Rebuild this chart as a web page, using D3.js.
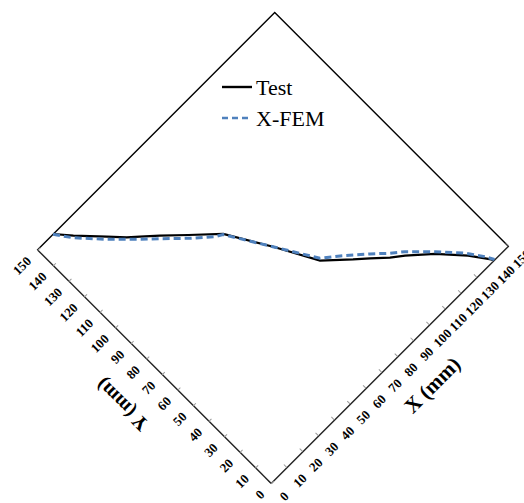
<!DOCTYPE html>
<html>
<head>
<meta charset="utf-8">
<script src="https://cdn.jsdelivr.net/npm/d3@7"></script>
<style>
  body { margin: 0; background: #fff; }
  svg { display: block; }
</style>
</head>
<body>
<div id="chart"></div>
<script>
// crack path (mm)
const testX = [10.2, 16, 26.2, 32.3, 36.7, 43.3, 52.5, 63.9, 76, 86, 96.8, 102.5, 109, 114.4, 124.4, 134.3, 138.8, 141.2]
const testY = [150, 143, 132, 125.3, 121.3, 115.2, 106.3, 95.4, 74.5, 55.7, 45.5, 40.4, 34.2, 30, 20.9, 9.7, 3.4, 0]

const xfemX = [10, 15.2, 25.5, 35.9, 42.4, 52, 60.4, 63.6, 76, 86.7, 93.8, 103.9, 110.4, 115.6, 125.1, 134.1, 139.3, 141.4]
const xfemY = [150, 142.5, 131, 120.4, 114.2, 104.7, 97.2, 95.3, 74.5, 56.5, 50.8, 41.8, 35.6, 31.3, 21.6, 11.5, 4, 0]

const axisTicks = d3.range(0, 151, 10)

const seriesNames = ["Test", "X-FEM"]

let svgW = 524, svgH = 503
// plot is a square turned 45 degrees round its origin corner
let origin = {x: 270.5, y: 483.5}
let plotW = 336, plotH = 330

const svg = d3.select("#chart")
    .append("svg")
    .attr("width", svgW)
    .attr("height", svgH)
    .style("background-color", "#fff")

const plot = svg.append("g")
    .attr("transform", "translate(" + origin.x + "," + origin.y + ") rotate(-45) translate(0," + (-plotH) + ")")

let x = d3.scaleLinear().domain([0, 150]).range([0, plotW])
let y = d3.scaleLinear().domain([0, 150]).range([plotH, 0])

// box (upper edges)
plot.append("path")
    .attr("d", "M0,0H" + x(150) + "V" + y(0))
    .attr("fill", "none")
    .attr("stroke", "#000")
    .attr("stroke-width", 1.4)

let xAxis = plot.append("g")
    .attr("transform", "translate(0," + plotH + ")")
    .call(d3.axisBottom(x).tickValues(axisTicks).tickSizeInner(-4).tickSizeOuter(0).tickPadding(14))

let yAxis = plot.append("g")
    .call(d3.axisLeft(y).tickValues(axisTicks).tickSizeInner(-4).tickSizeOuter(0).tickPadding(12))

plot.selectAll(".domain").attr("stroke", "#222").attr("stroke-width", 1.4)
plot.selectAll(".tick line").attr("stroke", "#999").attr("stroke-width", 1)
plot.selectAll(".tick text")
    .style("font-family", "'Liberation Serif', 'Times New Roman', serif")
    .style("font-weight", "bold")
    .style("font-size", "13px")
    .attr("fill", "#000")

// axis titles
plot.append("text")
    .attr("x", 184)
    .attr("y", plotH + 44.5)
    .attr("dy", "0.35em")
    .attr("text-anchor", "middle")
    .style("font-family", "'Liberation Serif', 'Times New Roman', serif")
    .style("font-weight", "bold")
    .style("font-size", "21px")
    .text("X (mm)")

plot.append("text")
    .attr("transform", "translate(-49.5," + (plotH - 160.5) + ") rotate(-90)")
    .attr("dy", "0.35em")
    .attr("text-anchor", "middle")
    .style("font-family", "'Liberation Serif', 'Times New Roman', serif")
    .style("font-weight", "bold")
    .style("font-size", "20px")
    .text("Y (mm)")

// curves
let line = d3.line().x(d => x(d[0])).y(d => y(d[1]))

plot.append("path")
    .datum(d3.zip(testX, testY))
    .attr("d", line)
    .attr("fill", "none")
    .attr("stroke", "#000")
    .attr("stroke-width", 2.2)

plot.append("path")
    .datum(d3.zip(xfemX, xfemY))
    .attr("d", line)
    .attr("fill", "none")
    .attr("stroke", "#4f81bd")
    .attr("stroke-width", 3)
    .attr("stroke-dasharray", "7,4")

// legend, not rotated
const legend = svg.append("g").attr("transform", "translate(222,87)")

legend.selectAll("line")
    .data(seriesNames)
    .enter()
    .append("line")
        .attr("x1", 0)
        .attr("x2", 30)
        .attr("y1", (d, i) => i * 31)
        .attr("y2", (d, i) => i * 31)
        .attr("stroke", (d, i) => i == 0 ? "#000" : "#4f81bd")
        .attr("stroke-width", (d, i) => i == 0 ? 2.4 : 2.6)
        .attr("stroke-dasharray", (d, i) => i == 0 ? null : "6,4")

legend.selectAll("text")
    .data(seriesNames)
    .enter()
    .append("text")
        .attr("x", 34)
        .attr("y", (d, i) => i * 31 + 8)
        .style("font-family", "'Liberation Serif', 'Times New Roman', serif")
        .style("font-size", "22px")
        .attr("fill", "#000")
        .text(d => d)
</script>
</body>
</html>
